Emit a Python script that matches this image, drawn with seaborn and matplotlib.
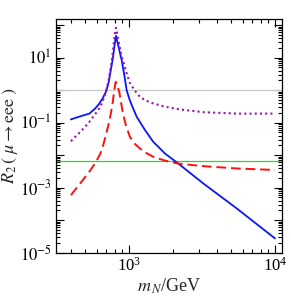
import numpy as np
import pandas as pd
import matplotlib
matplotlib.use("Agg")
import matplotlib.pyplot as plt
import matplotlib.ticker as mticker
import seaborn as sns

# data
m_blue = [400, 460, 535, 590, 627, 660, 695, 725, 754, 775, 794, 808, 815, 830, 849, 870, 891, 930, 964,
          1000, 1043, 1130, 1288, 1466, 1766, 2178, 3228, 5470, 10000]
r_blue = [0.126, 0.155, 0.19, 0.28, 0.39, 0.56, 0.89, 1.7, 4.7, 9.5, 21.4, 38, 46.8, 32, 21.4, 13, 8.4, 2.8, 1.0,
          0.58, 0.35, 0.151, 0.059, 0.0257, 0.0112, 0.0055, 0.00135, 2.3e-4, 2.75e-5]

m_red = [400, 482, 540, 594, 635, 661, 695, 725, 754, 775, 793, 810, 820, 840, 859, 880, 906, 950, 1016, 1100,
         1189, 1300, 1466, 1766, 2178, 3228, 5470, 10000]
r_red = [5.9e-4, 1.7e-3, 3.3e-3, 6.2e-3, 0.011, 0.018, 0.042, 0.09, 0.21, 0.45, 1.0, 1.8, 1.7, 1.2, 0.85, 0.45,
         0.21, 0.085, 0.036, 0.022, 0.016, 0.012, 0.0089, 0.0068, 0.0055, 0.0046, 0.0039, 0.0035]

m_purple = [400, 470, 535, 590, 627, 660, 695, 725, 754, 775, 793, 808, 815, 825, 840, 859, 890, 929, 970,
            1016, 1100, 1189, 1300, 1466, 1766, 2178, 3228, 5470, 10000]
r_purple = [0.027, 0.055, 0.105, 0.19, 0.275, 0.45, 0.89, 2.0, 5.9, 15, 39, 70, 83, 65, 40, 24, 11, 5.9, 3.0,
            1.62, 0.95, 0.62, 0.48, 0.39, 0.31, 0.26, 0.21, 0.19, 0.19]

ref_gray = 1.0
ref_green = 0.0065

df = pd.concat([
    pd.DataFrame({"m": m_blue, "R": r_blue, "s": "blue"}),
    pd.DataFrame({"m": m_red, "R": r_red, "s": "red"}),
    pd.DataFrame({"m": m_purple, "R": r_purple, "s": "purple"}),
])

sns.set_style("ticks")
plt.rcParams["font.family"] = ["Liberation Serif", "DejaVu Serif"]
plt.rcParams["mathtext.fontset"] = "stix"

fig = plt.figure(figsize=(2.91, 2.97), dpi=100)
ax = fig.add_axes([56/291, 1 - 252.7/297, (282 - 56)/291, (252.7 - 19.3)/297])

ax.axhline(ref_gray, color="#c8c8c8", lw=0.9, zorder=1)
ax.axhline(ref_green, color="#22dd22", lw=0.9, zorder=1)

sns.lineplot(data=df[df.s == "blue"], x="m", y="R", ax=ax, color="#0a14ff", lw=1.3, estimator=None, sort=False)
sns.lineplot(data=df[df.s == "red"], x="m", y="R", ax=ax, color="#ff1010", lw=1.4, estimator=None, sort=False,
             linestyle=(0, (5, 2.5)))
sns.lineplot(data=df[df.s == "purple"], x="m", y="R", ax=ax, color="#9a16a6", lw=1.5, estimator=None, sort=False,
             linestyle=(0, (1, 1.5)))

ax.set_xscale("log")
ax.set_yscale("log")
ax.set_xlim(10**2.5, 10**4.048)
ax.set_ylim(1e-5, 10**2.18)

ax.yaxis.set_major_locator(mticker.LogLocator(base=10, numticks=20))
ax.yaxis.set_minor_locator(mticker.LogLocator(base=10, subs=np.arange(2, 10), numticks=20))
ax.yaxis.set_major_formatter(mticker.FuncFormatter(
    lambda v, p: (r"$10^{%d}$" % round(np.log10(v))) if round(np.log10(v)) % 2 == 1 else ""))
ax.yaxis.set_minor_formatter(mticker.NullFormatter())
ax.xaxis.set_major_locator(mticker.LogLocator(base=10, numticks=10))
ax.xaxis.set_minor_locator(mticker.LogLocator(base=10, subs=np.arange(2, 10), numticks=10))
ax.xaxis.set_minor_formatter(mticker.NullFormatter())

ax.tick_params(which="both", direction="in", top=True, right=True, labelsize=12, width=0.8, colors="black")
ax.tick_params(which="major", length=6, pad=3)
ax.tick_params(which="minor", length=3)
for sp in ax.spines.values():
    sp.set_linewidth(0.9)
    sp.set_color("black")

ax.set_xlabel(r"$m_{\,N}$/GeV", fontsize=13, labelpad=1)
ax.set_ylabel(r"$R_2\,(\;\mu\rightarrow\mathrm{eee}\;)$", fontsize=13, labelpad=0)

fig.savefig("out.png", dpi=100)
